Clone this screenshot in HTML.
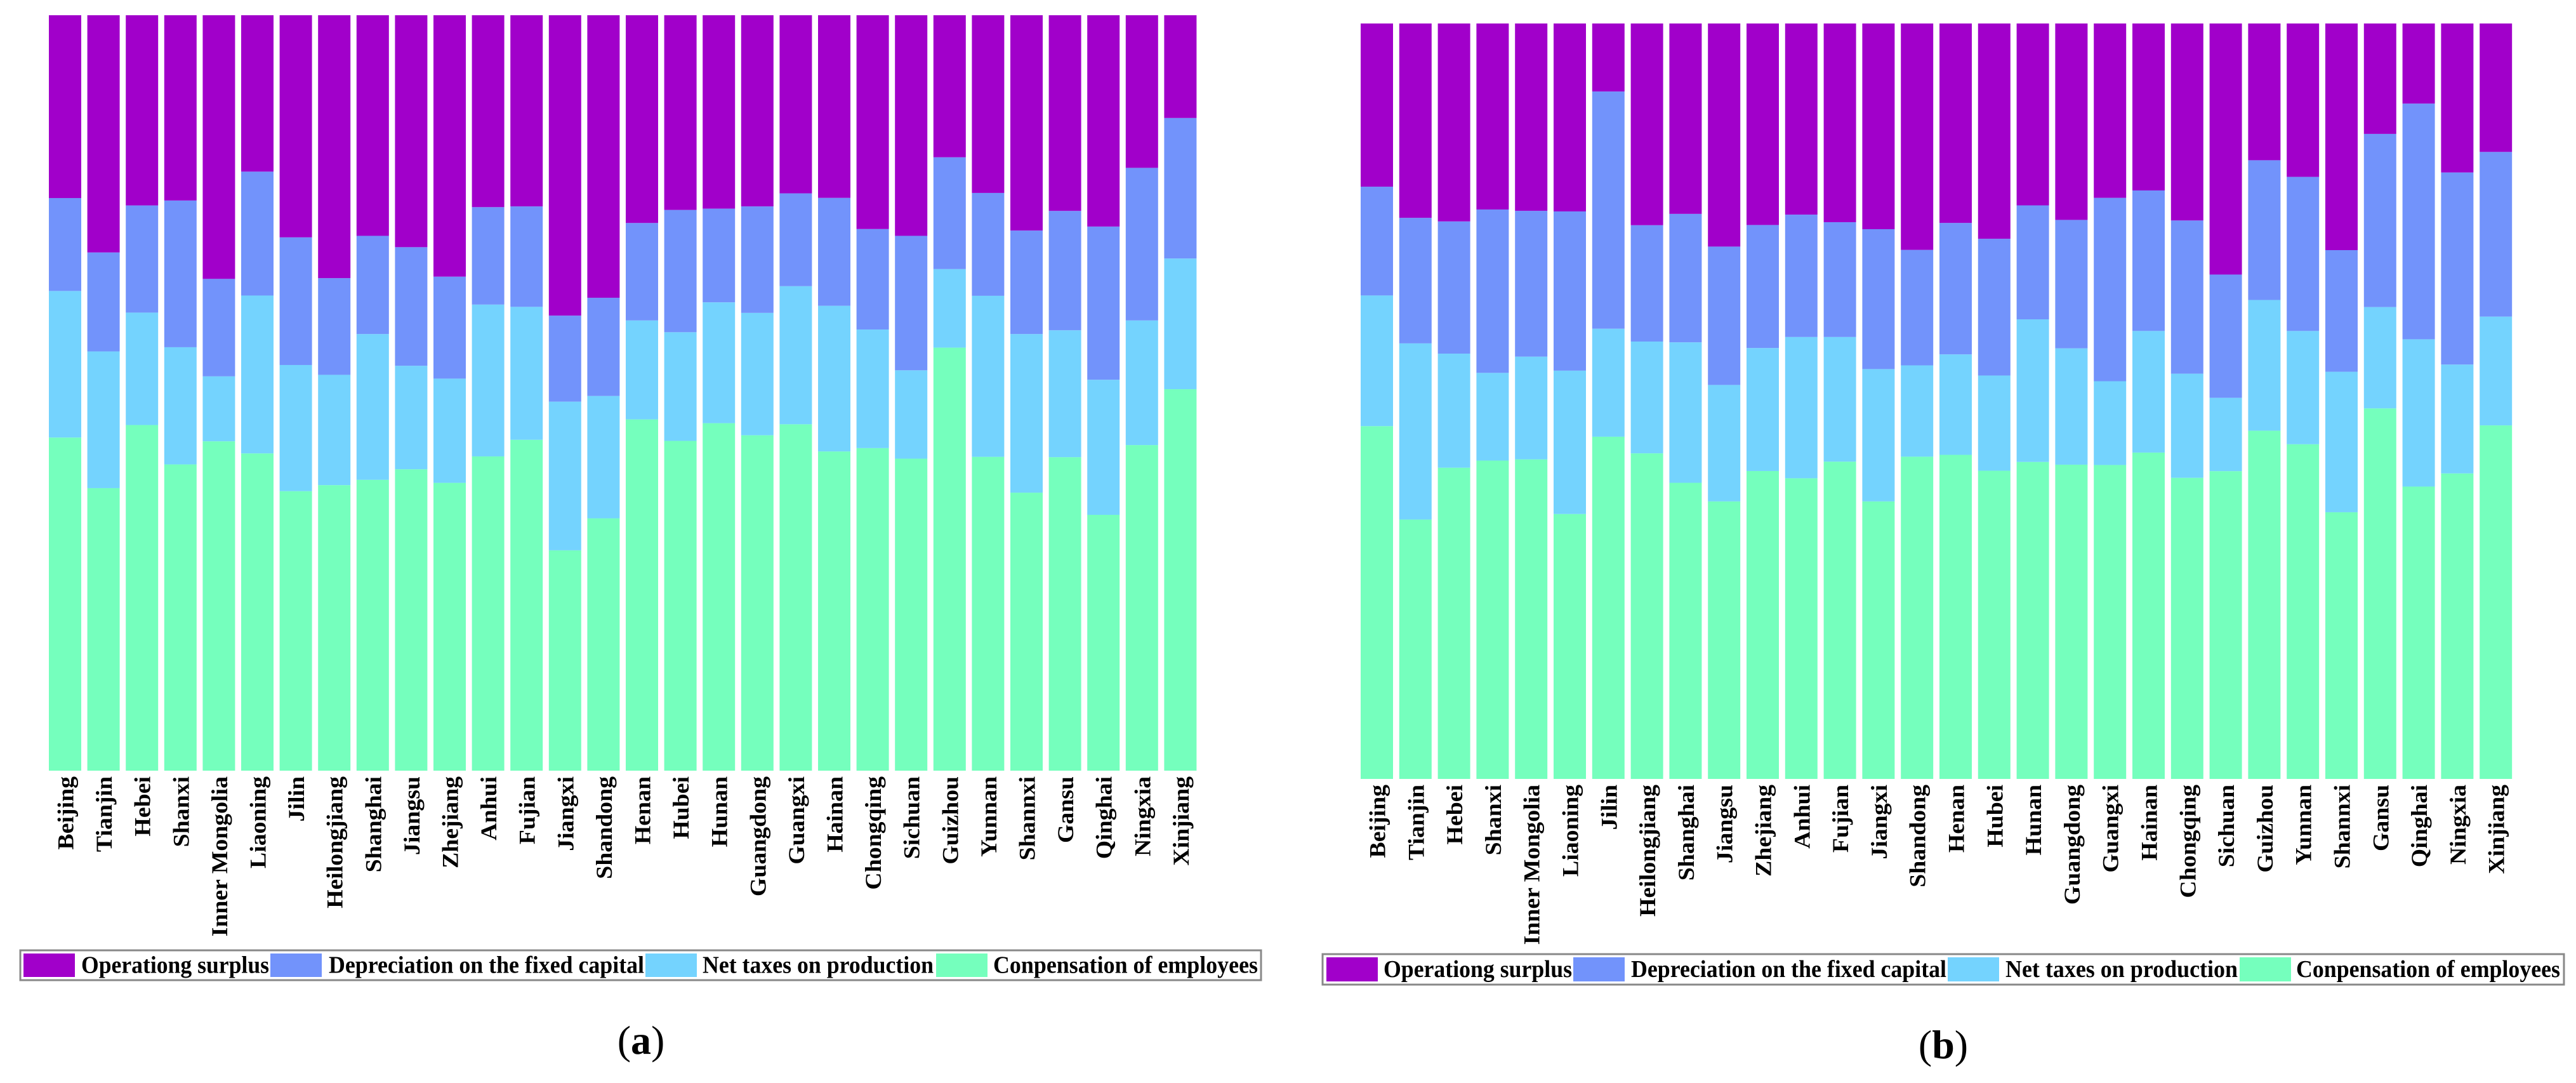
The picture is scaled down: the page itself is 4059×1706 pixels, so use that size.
<!DOCTYPE html>
<html><head><meta charset="utf-8"><style>
html,body{margin:0;padding:0;background:#fff;}
svg{display:block;}
</style></head><body>
<svg id="chart" width="4059" height="1706" viewBox="0 0 4059 1706" xmlns="http://www.w3.org/2000/svg"></svg>
<script>
const provinces = ["Beijing","Tianjin","Hebei","Shanxi","Inner Mongolia","Liaoning","Jilin","Heilongjiang","Shanghai","Jiangsu","Zhejiang","Anhui","Fujian","Jiangxi","Shandong","Henan","Hubei","Hunan","Guangdong","Guangxi","Hainan","Chongqing","Sichuan","Guizhou","Yunnan","Shannxi","Gansu","Qinghai","Ningxia","Xinjiang"];
const seriesNames = ["Operationg surplus","Depreciation on the fixed capital","Net taxes on production","Conpensation of employees"];
// Panel (a) values (%)
const aComp = [44.1,37.4,45.8,40.5,43.6,42.0,37.0,37.8,38.5,39.9,38.1,41.6,43.8,29.2,33.4,46.5,43.7,46.0,44.4,45.9,42.3,42.7,41.3,56.0,41.5,36.8,41.5,33.9,43.1,50.5];
const aTax  = [19.4,18.1,14.9,15.5,8.6,20.9,16.7,14.6,19.3,13.7,13.8,20.1,17.6,19.7,16.2,13.1,14.4,16.0,16.2,18.3,19.3,15.7,11.7,10.4,21.3,21.0,16.8,17.9,16.5,17.3];
const aDep  = [12.3,13.1,14.2,19.4,12.9,16.4,16.9,12.8,13.0,15.7,13.5,12.9,13.3,11.4,13.0,12.9,16.2,12.4,14.1,12.3,14.3,13.3,17.8,14.8,13.6,13.7,15.8,20.3,20.2,18.6];
const aSur  = [24.2,31.4,25.2,24.5,34.9,20.7,29.4,34.8,29.2,30.7,34.6,25.4,25.3,39.8,37.4,27.5,25.8,25.6,25.3,23.6,24.2,28.3,29.2,18.8,23.5,28.5,25.9,28.0,20.2,13.6];
// Panel (b) values (%)
const bComp = [46.7,34.3,41.2,42.1,42.3,35.1,45.3,43.1,39.2,36.7,40.8,39.8,42.0,36.7,42.7,42.9,40.8,42.0,41.6,41.6,43.2,39.9,40.7,46.1,44.3,35.3,49.0,38.7,40.4,46.8];
const bTax  = [17.3,23.3,15.1,11.6,13.6,19.0,14.3,14.8,18.6,15.4,16.3,18.7,16.5,17.5,12.1,13.3,12.6,18.9,15.4,11.1,16.1,13.8,9.7,17.3,15.0,18.6,13.4,19.5,14.4,14.4];
const bDep  = [14.4,16.6,17.5,21.6,19.3,21.1,31.4,15.4,17.0,18.3,16.3,16.2,15.2,18.5,15.3,17.4,18.1,15.1,17.0,24.3,18.6,20.3,16.3,18.5,20.4,16.1,22.9,31.2,25.4,21.8];
const bSur  = [21.6,25.7,26.2,24.6,24.8,24.9,9.0,26.7,25.2,29.5,26.7,25.3,26.3,27.2,30.0,26.4,28.5,24.1,26.0,23.1,22.1,26.1,33.2,18.1,20.3,30.0,14.6,10.6,19.7,17.0];

const NS="http://www.w3.org/2000/svg";
const svg=document.getElementById('chart');
const colors={sur:"#a100ca",dep:"#7293fb",tax:"#74d3fe",comp:"#75ffbd"};
function mk(tag,attrs,parent){const e=document.createElementNS(NS,tag);for(const k in attrs)e.setAttribute(k,attrs[k]);(parent||svg).appendChild(e);return e;}

function panel(id,x0,pitch,bw,top,bottom,comp,tax,dep,sur,legend,tag){
  const g=mk('g',{});
  
  
  const H=bottom-top;
  const yScale=v=>H*v;
  const xPos=i=>x0+i*pitch;
  provinces.forEach((p,i)=>{
    const tot=comp[i]+tax[i]+dep[i]+sur[i];
    const segs=[["comp",comp[i]],["tax",tax[i]],["dep",dep[i]],["sur",sur[i]]];
    let y=bottom;
    segs.forEach(([k,v])=>{
      const h=yScale(v/tot);
      const r=mk('rect',{x:xPos(i),y:y-h,width:bw,height:h,fill:colors[k]},g);
      
      
      y-=h;
    });
    const cx=xPos(i)+bw/2+13;
    const t=mk('text',{x:0,y:0,transform:`translate(${cx},${bottom+9}) rotate(-90) scale(1.05,1)`,'text-anchor':'end','font-family':'"Liberation Serif",serif','font-weight':'bold','font-size':'36'},g);
    
    
    t.textContent=p;
  });
  const L=legend;
  const box=mk('rect',{x:L.x,y:L.y,width:L.w,height:L.h,fill:'#fff',stroke:'#888','stroke-width':3},g);
  
  
  const keys=["sur","dep","tax","comp"];
  keys.forEach((k,j)=>{
    const s=mk('rect',{x:L.sw[j],y:L.y+5,width:81,height:L.h-10,fill:colors[k]},g);
    
    
    const t=mk('text',{x:L.tx[j][0],y:L.y+L.h/2+12,'font-family':'"Liberation Serif",serif','font-weight':'bold','font-size':'38',textLength:L.tx[j][1]-L.tx[j][0],lengthAdjust:'spacingAndGlyphs'},g);
    
    
    t.textContent=seriesNames[j];
  });
  const lab=mk('text',{x:tag.x,y:tag.y,'text-anchor':'middle','font-family':'"Liberation Serif",serif','font-size':'64'},g);
  
  
  lab.innerHTML='(<tspan font-weight="bold">'+tag.t+'</tspan>)';
}

panel('panel-a',77,60.6,51,24,1214,aComp,aTax,aDep,aSur,
  {x:32,y:1497,w:1955,h:47,sw:[37,426,1017,1475],tx:[[128,424],[518,1015],[1107,1471],[1565,1982]]},
  {x:1010,y:1660,t:'a'});
panel('panel-b',2144,60.8,51,37,1227,bComp,bTax,bDep,bSur,
  {x:2084,y:1503,w:1956,h:48,sw:[2090,2479,3069,3529],tx:[[2180,2477],[2570,3067],[3160,3526],[3618,4034]]},
  {x:3062,y:1667,t:'b'});
</script>
</body></html>
